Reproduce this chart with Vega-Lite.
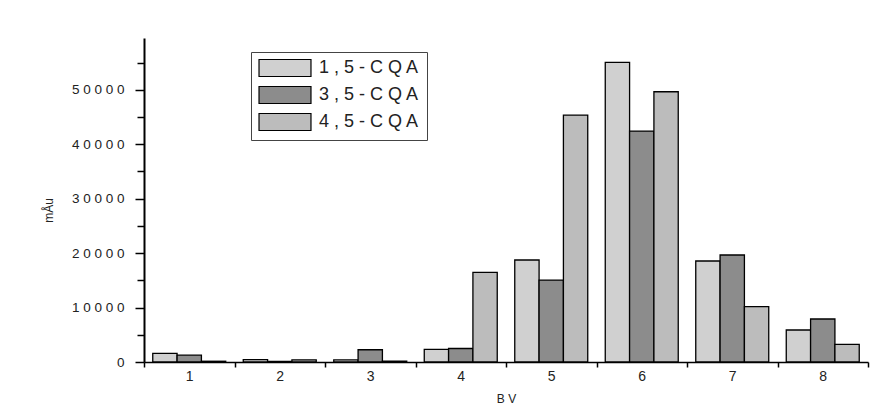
{
  "$schema": "https://vega.github.io/schema/vega-lite/v6.json",
  "autosize": "none",
  "width": 724,
  "height": 324,
  "padding": {"left": 144, "top": 38, "right": 25, "bottom": 50},
  "background": "white",
  "data": {
    "values": [
      {"bv": "1", "cqa": "1,5-CQA", "value": 1600},
      {"bv": "1", "cqa": "3,5-CQA", "value": 1250},
      {"bv": "1", "cqa": "4,5-CQA", "value": 140},
      {"bv": "2", "cqa": "1,5-CQA", "value": 420},
      {"bv": "2", "cqa": "3,5-CQA", "value": 90},
      {"bv": "2", "cqa": "4,5-CQA", "value": 400},
      {"bv": "3", "cqa": "1,5-CQA", "value": 380},
      {"bv": "3", "cqa": "3,5-CQA", "value": 2250},
      {"bv": "3", "cqa": "4,5-CQA", "value": 170},
      {"bv": "4", "cqa": "1,5-CQA", "value": 2330},
      {"bv": "4", "cqa": "3,5-CQA", "value": 2480},
      {"bv": "4", "cqa": "4,5-CQA", "value": 16470},
      {"bv": "5", "cqa": "1,5-CQA", "value": 18730},
      {"bv": "5", "cqa": "3,5-CQA", "value": 15050},
      {"bv": "5", "cqa": "4,5-CQA", "value": 45350},
      {"bv": "6", "cqa": "1,5-CQA", "value": 55030},
      {"bv": "6", "cqa": "3,5-CQA", "value": 42400},
      {"bv": "6", "cqa": "4,5-CQA", "value": 49630},
      {"bv": "7", "cqa": "1,5-CQA", "value": 18550},
      {"bv": "7", "cqa": "3,5-CQA", "value": 19650},
      {"bv": "7", "cqa": "4,5-CQA", "value": 10160},
      {"bv": "8", "cqa": "1,5-CQA", "value": 5880},
      {"bv": "8", "cqa": "3,5-CQA", "value": 7900},
      {"bv": "8", "cqa": "4,5-CQA", "value": 3250}
    ]
  },
  "mark": {"type": "bar", "stroke": "black", "strokeWidth": 1.3, "cornerRadius": 0},
  "encoding": {
    "x": {
      "field": "bv",
      "type": "ordinal",
      "scale": {"paddingInner": 0, "paddingOuter": 0},
      "axis": {
        "title": "B V",
        "labelAngle": 0,
        "tickBand": "extent",
        "tickSize": 5,
        "tickWidth": 1.5,
        "tickColor": "black",
        "domainColor": "black",
        "domainWidth": 1.5,
        "labelPadding": 2,
        "labelFont": "Liberation Sans",
        "labelFontSize": 14,
        "labelColor": "#222",
        "titleFont": "Liberation Sans",
        "titleFontSize": 12,
        "titleFontWeight": "normal",
        "titleColor": "#222",
        "titlePadding": 10
      }
    },
    "xOffset": {
      "field": "cqa",
      "type": "nominal",
      "scale": {"paddingInner": 0, "paddingOuter": 0.36}
    },
    "y": {
      "field": "value",
      "type": "quantitative",
      "scale": {"domain": [0, 59500], "nice": false},
      "axis": {
        "title": "mÅu",
        "values": [0, 5000, 10000, 15000, 20000, 25000, 30000, 35000, 40000, 45000, 50000, 55000],
        "labelExpr": "datum.value % 10000 == 0 ? join(split(format(datum.value, 'd'), ''), ' ') : ''",
        "grid": false,
        "tickSize": {"condition": {"test": "datum.value % 10000 != 0", "value": 7}, "value": 9},
        "tickWidth": 1.5,
        "tickColor": "black",
        "domainColor": "black",
        "domainWidth": 2,
        "labelPadding": 11,
        "labelFont": "Liberation Sans",
        "labelFontSize": 13.5,
        "labelColor": "#222",
        "titleFont": "Liberation Sans",
        "titleFontSize": 12,
        "titleFontWeight": "normal",
        "titleColor": "#222",
        "titleX": -96,
        "titleY": 172,
        "titleAngle": -90,
        "titleAlign": "center",
        "titleBaseline": "middle"
      }
    },
    "fill": {
      "field": "cqa",
      "type": "nominal",
      "scale": {"domain": ["1,5-CQA", "3,5-CQA", "4,5-CQA"], "range": ["#d0d0d0", "#8c8c8c", "#bcbcbc"]},
      "legend": {
        "title": null,
        "orient": "none",
        "legendX": 107,
        "legendY": 14,
        "direction": "vertical",
        "symbolType": "M-5,-1.635H5V1.635H-5Z",
        "symbolSize": 108,
        "symbolOffset": 18,
        "symbolStrokeColor": "black",
        "symbolStrokeWidth": 1.2,
        "symbolOpacity": 1,
        "labelExpr": "join(split(datum.label, ''), ' ')",
        "labelFont": "Liberation Sans",
        "labelFontSize": 18,
        "labelColor": "#222",
        "labelOffset": 25,
        "labelLimit": 300,
        "strokeColor": "#444",
        "fillColor": "white",
        "padding": 7,
        "rowPadding": 5
      }
    }
  },
  "config": {
    "view": {"stroke": null}
  }
}
